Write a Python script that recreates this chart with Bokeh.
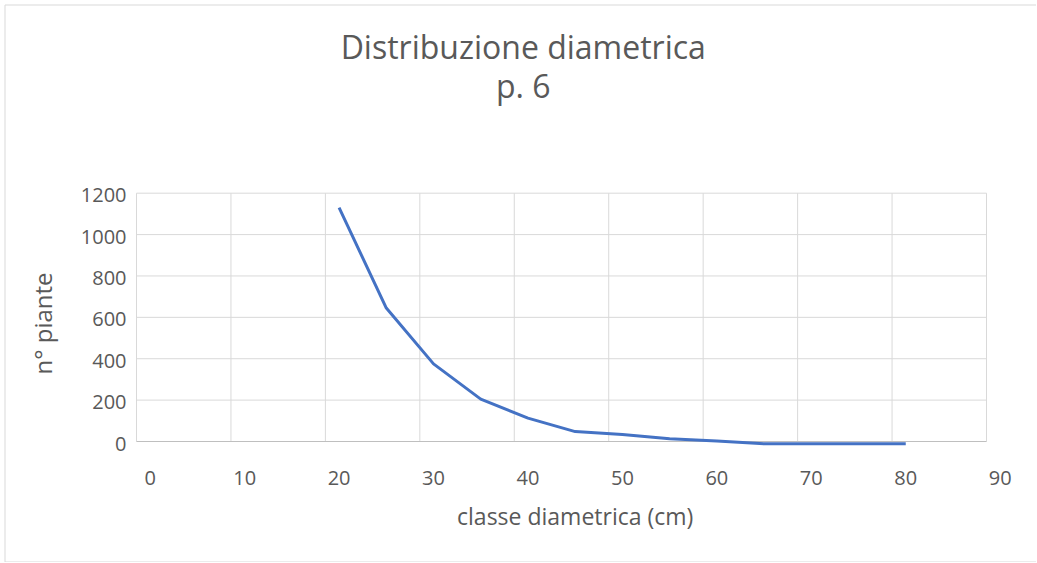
import math
from bokeh.plotting import figure
from bokeh.models import Range1d
from bokeh.core.properties import value
from bokeh.embed import file_html
from bokeh.resources import INLINE

# ---------------- data ----------------
title_lines = ["Distribuzione diametrica", "p. 6"]
x_title = "classe diametrica (cm)"
y_title = "n° piante"

diameter_class = [20, 25, 30, 35, 40, 45, 50, 55, 60, 65, 70, 75, 80]
n_trees = [1130, 645, 375, 205, 113, 48, 34, 13, 2, -11, -11, -11, -11]

x_ticks = [0, 10, 20, 30, 40, 50, 60, 70, 80, 90]
x_tick_labels = ["0", "10", "20", "30", "40", "50", "60", "70", "80", "90"]
y_ticks = [0, 200, 400, 600, 800, 1000, 1200]
y_tick_labels = ["0", "200", "400", "600", "800", "1000", "1200"]

# ---------------- style / geometry ----------------
FONT = "Open Sans"
TXT = "#595959"
GRID = "#d9d9d9"
AXIS = "#bfbfbf"
BORDER = "#d9d9d9"
LINE = "#4472c4"
SHIFT = 1.45            # value labels sit slightly right of the gridlines (as in Excel)
W, H = 1036, 562        # canvas size
PX_X = 850 / 90         # pixels per x unit
PX_Y = 248.3 / 1200     # pixels per y unit
X0_PX = 136             # canvas x of gridline 0
Y0_PX = 441             # canvas y of value 0


def dx(px):
    """horizontal pixel distance from gridline 0 -> x data units"""
    return -SHIFT + px / PX_X


def dy(px):
    """vertical pixel distance above the 0 line -> y data units"""
    return px / PX_Y


def cx(px):
    """canvas x pixel -> x data units"""
    return dx(px - X0_PX)


def cy(px):
    """canvas y pixel -> y data units"""
    return dy(Y0_PX - px)


x_start = cx(0)
y_start = cy(H)
p = figure(width=W, height=H, output_backend="svg", toolbar_location=None,
           x_range=Range1d(x_start, x_start + W / PX_X),
           y_range=Range1d(y_start, y_start + H / PX_Y),
           x_axis_type=None, y_axis_type=None,
           min_border=0, min_border_left=0, min_border_right=0,
           min_border_top=0, min_border_bottom=0)
p.outline_line_color = None
p.background_fill_color = "white"
p.border_fill_color = "white"
p.title.visible = False

# chart-area border (left, top, bottom)
p.multi_line(xs=[[cx(4.5), cx(4.5)], [cx(4.5), cx(W + 2)], [cx(4.5), cx(W + 2)]],
             ys=[[cy(4.5), cy(561.5)], [cy(4.5), cy(4.5)], [cy(561.5), cy(561.5)]],
             line_color=BORDER, line_width=1)

# gridlines (from the tick arrays)
gx0, gx1 = x_ticks[0] - SHIFT, x_ticks[-1] - SHIFT
p.multi_line(xs=[[t - SHIFT, t - SHIFT] for t in x_ticks],
             ys=[[y_ticks[0], y_ticks[-1]] for _ in x_ticks],
             line_color=GRID, line_width=1)
p.multi_line(xs=[[gx0, gx1] for _ in y_ticks[1:]],
             ys=[[t, t] for t in y_ticks[1:]],
             line_color=GRID, line_width=1)
p.line(x=[gx0, gx1], y=[y_ticks[0], y_ticks[0]], line_color=AXIS, line_width=1)

# series
p.line(diameter_class, n_trees, line_color=LINE, line_width=3, line_join="round")

# tick labels
p.text(x=x_ticks, y=[dy(-36)] * len(x_ticks), text=x_tick_labels,
       text_font=value(FONT), text_font_size="20px", text_color=TXT,
       text_align="center", text_baseline="middle")
p.text(x=[dx(-10)] * len(y_ticks), y=[t - dy(2) for t in y_ticks], text=y_tick_labels,
       text_font=value(FONT), text_font_size="20px", text_color=TXT,
       text_align="right", text_baseline="middle")

# axis titles
p.text(x=[45], y=[dy(-74.5)], text=[x_title],
       text_font=value(FONT), text_font_size="23px", text_color=TXT,
       text_align="center", text_baseline="middle")
p.text(x=[dx(-94)], y=[dy(118)], text=[y_title], angle=math.pi / 2,
       text_font=value(FONT), text_font_size="24px", text_color=TXT,
       text_align="center", text_baseline="middle")

# chart title
p.text(x=[39.5, 39.5], y=[dy(395), dy(356)], text=title_lines,
       text_font=value(FONT), text_font_size="32px", text_color=TXT,
       text_align="center", text_baseline="middle")

open("out.html", "w").write(file_html(p, INLINE))
